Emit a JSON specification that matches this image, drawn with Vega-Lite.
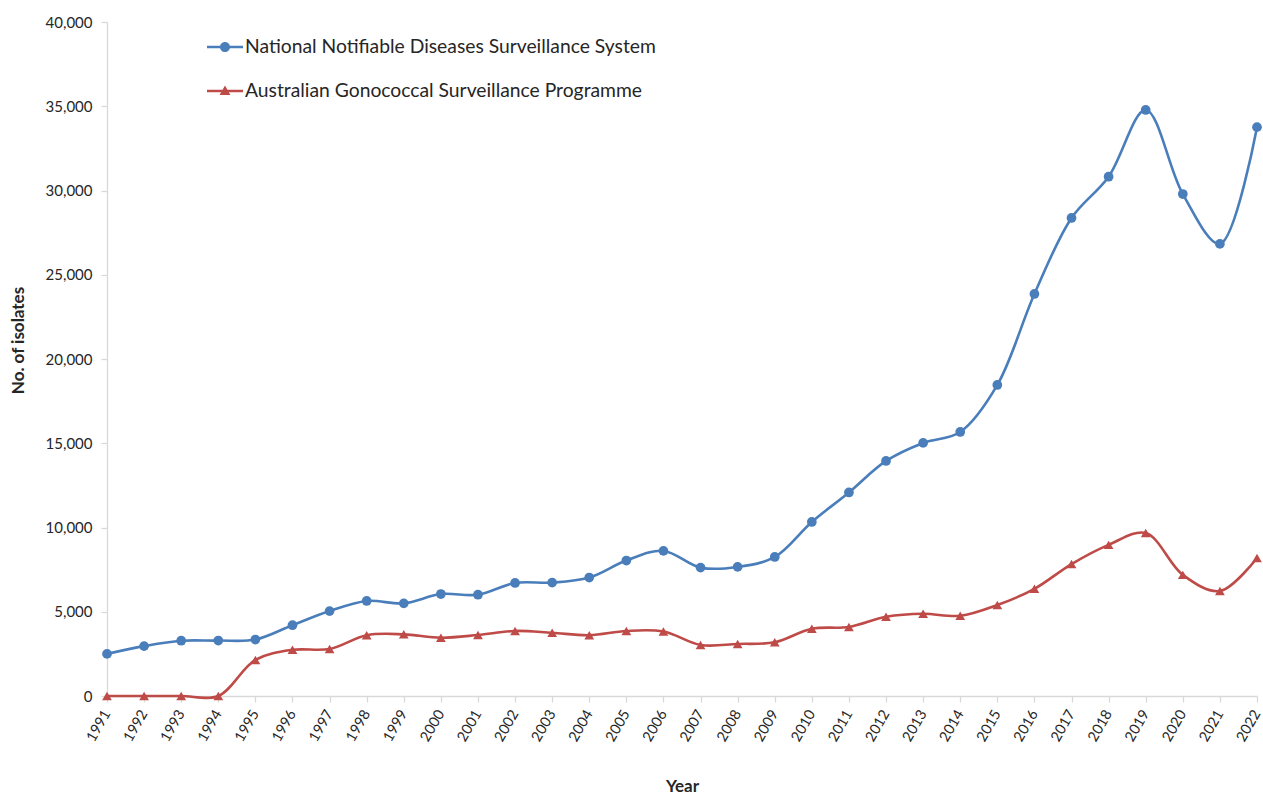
{
  "$schema": "https://vega.github.io/schema/vega-lite/v6.json",
  "autosize": "none",
  "width": 1150,
  "height": 674,
  "padding": {"left": 107, "top": 22, "right": 6, "bottom": 102},
  "background": "white",
  "config": {
    "view": {"stroke": null},
    "font": "Lato",
    "axis": {"grid": false, "labelFont": "Lato", "titleFont": "Lato", "labelColor": "#262626", "titleColor": "#262626", "domainColor": "#d9d9d9", "tickColor": "#d9d9d9", "domainWidth": 1.3, "tickWidth": 1.3}
  },
  "datasets": {
    "d": [
      {"year": 1991, "series": "National Notifiable Diseases Surveillance System", "value": 2500},
      {"year": 1992, "series": "National Notifiable Diseases Surveillance System", "value": 2960},
      {"year": 1993, "series": "National Notifiable Diseases Surveillance System", "value": 3280},
      {"year": 1994, "series": "National Notifiable Diseases Surveillance System", "value": 3290},
      {"year": 1995, "series": "National Notifiable Diseases Surveillance System", "value": 3350},
      {"year": 1996, "series": "National Notifiable Diseases Surveillance System", "value": 4200},
      {"year": 1997, "series": "National Notifiable Diseases Surveillance System", "value": 5040},
      {"year": 1998, "series": "National Notifiable Diseases Surveillance System", "value": 5640},
      {"year": 1999, "series": "National Notifiable Diseases Surveillance System", "value": 5500},
      {"year": 2000, "series": "National Notifiable Diseases Surveillance System", "value": 6050},
      {"year": 2001, "series": "National Notifiable Diseases Surveillance System", "value": 6010},
      {"year": 2002, "series": "National Notifiable Diseases Surveillance System", "value": 6710},
      {"year": 2003, "series": "National Notifiable Diseases Surveillance System", "value": 6730},
      {"year": 2004, "series": "National Notifiable Diseases Surveillance System", "value": 7030},
      {"year": 2005, "series": "National Notifiable Diseases Surveillance System", "value": 8040},
      {"year": 2006, "series": "National Notifiable Diseases Surveillance System", "value": 8610},
      {"year": 2007, "series": "National Notifiable Diseases Surveillance System", "value": 7620},
      {"year": 2008, "series": "National Notifiable Diseases Surveillance System", "value": 7660},
      {"year": 2009, "series": "National Notifiable Diseases Surveillance System", "value": 8250},
      {"year": 2010, "series": "National Notifiable Diseases Surveillance System", "value": 10330},
      {"year": 2011, "series": "National Notifiable Diseases Surveillance System", "value": 12080},
      {"year": 2012, "series": "National Notifiable Diseases Surveillance System", "value": 13950},
      {"year": 2013, "series": "National Notifiable Diseases Surveillance System", "value": 15020},
      {"year": 2014, "series": "National Notifiable Diseases Surveillance System", "value": 15670},
      {"year": 2015, "series": "National Notifiable Diseases Surveillance System", "value": 18460},
      {"year": 2016, "series": "National Notifiable Diseases Surveillance System", "value": 23860},
      {"year": 2017, "series": "National Notifiable Diseases Surveillance System", "value": 28370},
      {"year": 2018, "series": "National Notifiable Diseases Surveillance System", "value": 30820},
      {"year": 2019, "series": "National Notifiable Diseases Surveillance System", "value": 34780},
      {"year": 2020, "series": "National Notifiable Diseases Surveillance System", "value": 29790},
      {"year": 2021, "series": "National Notifiable Diseases Surveillance System", "value": 26830},
      {"year": 2022, "series": "National Notifiable Diseases Surveillance System", "value": 33760},
      {"year": 1991, "series": "Australian Gonococcal Surveillance Programme", "value": 0},
      {"year": 1992, "series": "Australian Gonococcal Surveillance Programme", "value": 0},
      {"year": 1993, "series": "Australian Gonococcal Surveillance Programme", "value": 0},
      {"year": 1994, "series": "Australian Gonococcal Surveillance Programme", "value": 0},
      {"year": 1995, "series": "Australian Gonococcal Surveillance Programme", "value": 2140},
      {"year": 1996, "series": "Australian Gonococcal Surveillance Programme", "value": 2740},
      {"year": 1997, "series": "Australian Gonococcal Surveillance Programme", "value": 2790},
      {"year": 1998, "series": "Australian Gonococcal Surveillance Programme", "value": 3610},
      {"year": 1999, "series": "Australian Gonococcal Surveillance Programme", "value": 3660},
      {"year": 2000, "series": "Australian Gonococcal Surveillance Programme", "value": 3460},
      {"year": 2001, "series": "Australian Gonococcal Surveillance Programme", "value": 3620},
      {"year": 2002, "series": "Australian Gonococcal Surveillance Programme", "value": 3860},
      {"year": 2003, "series": "Australian Gonococcal Surveillance Programme", "value": 3750},
      {"year": 2004, "series": "Australian Gonococcal Surveillance Programme", "value": 3610},
      {"year": 2005, "series": "Australian Gonococcal Surveillance Programme", "value": 3860},
      {"year": 2006, "series": "Australian Gonococcal Surveillance Programme", "value": 3830},
      {"year": 2007, "series": "Australian Gonococcal Surveillance Programme", "value": 3030},
      {"year": 2008, "series": "Australian Gonococcal Surveillance Programme", "value": 3090},
      {"year": 2009, "series": "Australian Gonococcal Surveillance Programme", "value": 3190},
      {"year": 2010, "series": "Australian Gonococcal Surveillance Programme", "value": 3990},
      {"year": 2011, "series": "Australian Gonococcal Surveillance Programme", "value": 4100},
      {"year": 2012, "series": "Australian Gonococcal Surveillance Programme", "value": 4700},
      {"year": 2013, "series": "Australian Gonococcal Surveillance Programme", "value": 4880},
      {"year": 2014, "series": "Australian Gonococcal Surveillance Programme", "value": 4760},
      {"year": 2015, "series": "Australian Gonococcal Surveillance Programme", "value": 5400},
      {"year": 2016, "series": "Australian Gonococcal Surveillance Programme", "value": 6360},
      {"year": 2017, "series": "Australian Gonococcal Surveillance Programme", "value": 7830},
      {"year": 2018, "series": "Australian Gonococcal Surveillance Programme", "value": 8970},
      {"year": 2019, "series": "Australian Gonococcal Surveillance Programme", "value": 9670},
      {"year": 2020, "series": "Australian Gonococcal Surveillance Programme", "value": 7190},
      {"year": 2021, "series": "Australian Gonococcal Surveillance Programme", "value": 6230},
      {"year": 2022, "series": "Australian Gonococcal Surveillance Programme", "value": 8190}
    ]
  },
  "data": {"name": "d"},
  "encoding": {
    "x": {
      "field": "year", "type": "quantitative",
      "scale": {"domain": [1991, 2022], "nice": false, "zero": false},
      "axis": {
        "values": [1991,1992,1993,1994,1995,1996,1997,1998,1999,2000,2001,2002,2003,2004,2005,2006,2007,2008,2009,2010,2011,2012,2013,2014,2015,2016,2017,2018,2019,2020,2021,2022],
        "format": "d", "labelAngle": -60, "labelFontSize": 14.5, "labelPadding": 9, "tickSize": 6,
        "title": "Year", "titleFontSize": 17, "titleFontWeight": "bold", "titlePadding": 35, "labelFlush": false, "labelOverlap": false
      }
    },
    "y": {
      "field": "value", "type": "quantitative",
      "scale": {"domain": [0, 40000], "nice": false},
      "axis": {
        "values": [0,5000,10000,15000,20000,25000,30000,35000,40000],
        "format": ",.0f", "labelFontSize": 15, "labelPadding": 9, "tickSize": 6,
        "title": "No. of isolates", "titleFontSize": 17, "titleFontWeight": "bold", "titlePadding": 18, "titleY": 318
      }
    },
    "color": {
      "field": "series", "type": "nominal",
      "scale": {
        "domain": ["National Notifiable Diseases Surveillance System", "Australian Gonococcal Surveillance Programme"],
        "range": ["#4a7ebb", "#be4b48"]
      }
    }
  },
  "layer": [
    {
      "mark": {"type": "line", "interpolate": "catmull-rom", "strokeWidth": 2.6},
      "encoding": {"color": {"field": "series", "type": "nominal", "legend": null}}
    },
    {
      "mark": {"type": "point", "filled": true, "opacity": 1},
      "encoding": {
        "shape": {
          "field": "series", "type": "nominal",
          "scale": {
            "domain": ["National Notifiable Diseases Surveillance System", "Australian Gonococcal Surveillance Programme"],
            "range": ["circle", "triangle-up"]
          },
          "legend": null
        },
        "size": {"value": 95}
      }
    },
    {
      "mark": {"type": "point", "filled": true, "opacity": 0},
      "encoding": {
        "shape": {
          "field": "series", "type": "nominal",
          "scale": {
            "domain": ["National Notifiable Diseases Surveillance System", "Australian Gonococcal Surveillance Programme"],
            "range": ["M-1,-0.07H1V0.07H-1Z M0.28,0 A0.28,0.28 0 1,1 -0.28,0 A0.28,0.28 0 1,1 0.28,0 Z", "M-1,-0.07H1V0.07H-1Z M0,-0.3 L0.3,0.22 L-0.3,0.22 Z"]
          },
          "legend": {
            "title": null, "orient": "none", "legendX": 100, "legendY": 7,
            "symbolSize": 1296, "symbolOpacity": 1, "symbolStrokeWidth": 0, "symbolFillColor": "#4a7ebb",
            "labelFontSize": 19.3, "labelFont": "Lato", "labelColor": "#262626", "labelOffset": 2, "rowPadding": 15, "padding": 0, "labelLimit": 700,
            "encode": {
              "symbols": {
                "update": {
                  "fill": [
                    {"test": "datum.value === 'Australian Gonococcal Surveillance Programme'", "value": "#be4b48"},
                    {"value": "#4a7ebb"}
                  ],
                  "opacity": {"value": 1},
                  "fillOpacity": {"value": 1}
                }
              }
            }
          }
        },
        "color": {"field": "series", "type": "nominal", "legend": null},
        "size": {"value": 95}
      }
    }
  ],
  "resolve": {"scale": {"shape": "independent"}}
}
